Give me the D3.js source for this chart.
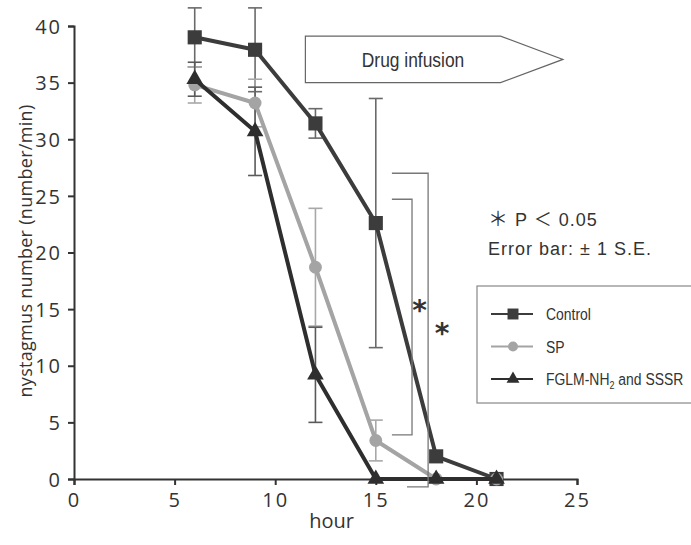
<!DOCTYPE html>
<html>
<head>
<meta charset="utf-8">
<script src="https://cdn.jsdelivr.net/npm/d3@7"></script>
<style>
  body { margin: 0; background: #fff; }
  svg { display: block; }
  .tick text { font-family: "Open Sans", sans-serif; font-size: 20px; letter-spacing: 2px; fill: #333; }
  .narrow { font-family: "Liberation Sans", Arial, sans-serif; fill: #333; }
</style>
</head>
<body>
<div id="chart"></div>
<script>
// hours of measurement
const hours = [6, 9, 12, 15, 18, 21];

// mean nystagmus (number/min) and S.E. for each group
const controlMean = [39.0, 37.9, 31.4, 22.6, 2.0, 0];
const controlSE   = [2.6, 3.7, 1.3, 11.0, 0, 0];
const spMean      = [34.8, 33.2, 18.7, 3.4, 0, 0];
const spSE        = [1.6, 2.1, 5.2, 1.8, 0, 0];
const fglmMean    = [35.3, 30.7, 9.2, 0, 0, 0];
const fglmSE      = [1.5, 3.9, 4.2, 0, 0, 0];

const xTicks = [0, 5, 10, 15, 20, 25];
const yTicks = [0, 5, 10, 15, 20, 25, 30, 35, 40];

let width = 691, height = 545;
let margin = { top: 26, right: 114, bottom: 66, left: 74 };

let svg = d3.select('#chart')
    .append('svg')
    .attr('width', width)
    .attr('height', height);

let x = d3.scaleLinear()
    .domain([0, 25])
    .range([margin.left, width - margin.right]);
let y = d3.scaleLinear()
    .domain([0, 40])
    .range([height - margin.bottom, margin.top]);

// condensed text: regular font squeezed horizontally
function narrowText(parent, px, py, size, sx, anchor) {
    return parent.append('g')
        .attr('transform', 'translate(' + px + ',' + py + ') scale(' + sx + ',1)')
        .append('text')
        .attr('class', 'narrow')
        .attr('text-anchor', anchor || 'start')
        .style('font-size', size + 'px');
}

// axes
svg.append('g')
    .attr('transform', 'translate(0,' + y(0) + ')')
    .call(d3.axisBottom(x).tickValues(xTicks).tickSize(6).tickPadding(8))
    .call(g => g.selectAll('line, path').attr('stroke', '#333').attr('stroke-width', 2));
svg.append('g')
    .attr('transform', 'translate(' + x(0) + ',0)')
    .call(d3.axisLeft(y).tickValues(yTicks).tickSize(6).tickPadding(6))
    .call(g => g.selectAll('line, path').attr('stroke', '#333').attr('stroke-width', 2))
    .call(g => g.selectAll('text').attr('dy', '0.36em'));

// axis titles
svg.append('text')
    .attr('x', x(12.8)).attr('y', 528)
    .attr('text-anchor', 'middle')
    .style('font-family', '"Open Sans", sans-serif')
    .style('font-size', '20px')
    .style('fill', '#333')
    .text('hour');
svg.append('text')
    .attr('transform', 'translate(32,251) rotate(-90)')
    .attr('text-anchor', 'middle')
    .style('font-family', '"Open Sans", sans-serif')
    .style('font-size', '18px')
    .style('letter-spacing', '0.3px')
    .style('fill', '#333')
    .text('nystagmus number (number/min)');

// drug infusion arrow
let ay0 = y(39.1), ay1 = y(35.0);
svg.append('path')
    .attr('d', 'M' + x(11.5) + ',' + ay0 + 'L' + x(21.2) + ',' + ay0 + 'L' + x(24.3) + ',' + (ay0 + ay1) / 2 +
        'L' + x(21.2) + ',' + ay1 + 'L' + x(11.5) + ',' + ay1 + 'Z')
    .attr('fill', '#fff')
    .attr('stroke', '#666')
    .attr('stroke-width', 1.2);
narrowText(svg, x(16.85), y(36.35), 20, 0.87, 'middle').text('Drug infusion');

const groups = [
    { name: 'Control', mean: controlMean, se: controlSE, color: '#3c3c3c', err: '#6a6a6a', shape: d3.symbolSquare, size: 200 },
    { name: 'SP', mean: spMean, se: spSE, color: '#a4a4a4', err: '#a8a8a8', shape: d3.symbolCircle, size: 130 },
    { name: 'FGLM', mean: fglmMean, se: fglmSE, color: '#2e2e2e', err: '#5a5a5a', shape: d3.symbolTriangle, size: 120 }
];

// error bars
groups.forEach(function (g) {
    let eb = svg.append('g').attr('stroke', g.err).attr('stroke-width', 1.6).attr('fill', 'none');
    hours.forEach(function (h, i) {
        if (g.se[i] <= 0) return;
        let hi = y(g.mean[i] + g.se[i]), lo = y(g.mean[i] - g.se[i]);
        eb.append('line').attr('x1', x(h)).attr('x2', x(h)).attr('y1', hi).attr('y2', lo);
        eb.append('line').attr('x1', x(h) - 7).attr('x2', x(h) + 7).attr('y1', hi).attr('y2', hi);
        eb.append('line').attr('x1', x(h) - 7).attr('x2', x(h) + 7).attr('y1', lo).attr('y2', lo);
    });
});

// lines and markers
let line = d3.line().x(d => x(d[0])).y(d => y(d[1]));
groups.forEach(function (g) {
    let pts = hours.map((h, i) => [h, g.mean[i]]);
    svg.append('path')
        .datum(pts)
        .attr('d', line)
        .attr('fill', 'none')
        .attr('stroke', g.color)
        .attr('stroke-width', 4)
        .attr('stroke-linejoin', 'round');
    svg.append('g')
        .selectAll('path')
        .data(pts)
        .enter()
        .append('path')
        .attr('transform', d => 'translate(' + x(d[0]) + ',' + y(d[1]) + ')')
        .attr('d', d3.symbol().type(g.shape).size(g.size))
        .attr('fill', g.color);
});

// significance brackets
let br = svg.append('g').attr('stroke', '#777').attr('stroke-width', 1.3).attr('fill', 'none');
br.append('path')
    .attr('d', 'M' + x(15.8) + ',' + y(24.7) + 'H' + x(16.8) + 'V' + y(3.9) + 'H' + x(15.8));
br.append('path')
    .attr('d', 'M' + x(15.8) + ',' + y(27.0) + 'H' + x(17.6) + 'V' + y(-0.7) + 'H' + x(16.55));
[[17.17, 15.1], [18.3, 13.1]].forEach(function (p) {
    svg.append('text')
        .attr('x', x(p[0])).attr('y', y(p[1]) + 12)
        .attr('text-anchor', 'middle')
        .style('font-family', '"DejaVu Sans", sans-serif')
        .style('font-size', '28px').style('font-weight', 'bold').style('fill', '#333')
        .text('*');
});

// notes
let note = svg.append('text')
    .attr('x', 488).attr('y', 226)
    .style('font-family', '"Liberation Sans", Arial, sans-serif')
    .style('font-size', '18px').style('letter-spacing', '1px').style('fill', '#333');
note.append('tspan').style('font-family', '"Noto Sans CJK JP", sans-serif').style('font-size', '20px').text('\uFF0A');
note.append('tspan').text(' P ');
note.append('tspan').style('font-family', '"Noto Sans CJK JP", sans-serif').style('font-size', '18px').text('\uFF1C');
note.append('tspan').text(' 0.05');
svg.append('text')
    .attr('x', 488).attr('y', 255)
    .style('font-family', '"Liberation Sans", Arial, sans-serif')
    .style('font-size', '18px').style('letter-spacing', '1px').style('fill', '#333')
    .text('Error bar: \u00B1 1 S.E.');

// legend
let legend = svg.append('g');
legend.append('rect')
    .attr('x', 477).attr('y', 286)
    .attr('width', 240).attr('height', 117)
    .attr('fill', '#fff')
    .attr('stroke', '#888')
    .attr('stroke-width', 1.2);
groups.forEach(function (g, i) {
    let ly = 314 + i * 32.5;
    legend.append('line')
        .attr('x1', 491).attr('x2', 533).attr('y1', ly).attr('y2', ly)
        .attr('stroke', g.color).attr('stroke-width', 2.2);
    legend.append('path')
        .attr('transform', 'translate(513,' + ly + ')')
        .attr('d', d3.symbol().type(g.shape).size(g.size * 0.6))
        .attr('fill', g.color);
    let t = narrowText(legend, 546, ly + 6, 17, 0.82);
    if (g.name === 'FGLM') {
        t.append('tspan').text('FGLM-NH');
        t.append('tspan').attr('dy', 4).style('font-size', '11px').text('2');
        t.append('tspan').attr('dy', -4).text(' and SSSR');
    } else {
        t.text(g.name);
    }
});
</script>
</body>
</html>
